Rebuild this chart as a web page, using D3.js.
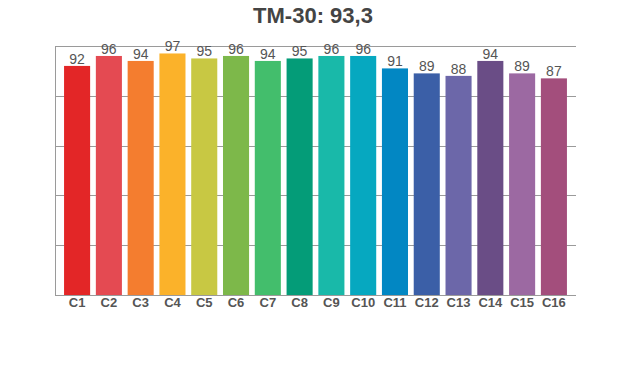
<!DOCTYPE html>
<html><head><meta charset="utf-8">
<script src="https://cdn.jsdelivr.net/npm/d3@7/dist/d3.min.js"></script>
<style>body{margin:0;background:#fff;}svg{display:block;}</style>
</head><body>
<svg id="c" width="620" height="370"></svg>
<script>
const categories = ["C1","C2","C3","C4","C5","C6","C7","C8","C9","C10","C11","C12","C13","C14","C15","C16"];
const values = [92,96,94,97,95,96,94,95,96,96,91,89,88,94,89,87];
const colors = ["#e32627","#e44a52","#f47d2f","#fbb22a","#c8c843","#7db84a","#43be6c","#049c78","#19b9a9","#06a8c0","#0287c3","#3b5fa7","#6c67a9","#6a4d86","#9c69a2","#a34e7c"];
const yTicks = [0,20,40,60,80,100];
const title = "TM-30: 93,3";

const svg = d3.select("#c");
const L = 55, R = 576, T = 46, B = 295;
const x = d3.scaleBand().domain(categories).range([L, R]).paddingInner(0.18).paddingOuter(0.285);
const y = d3.scaleLinear().domain([0,100]).range([B, T]);

// grid
svg.append("g").selectAll("line").data(yTicks).join("line")
  .attr("x1", L).attr("x2", R)
  .attr("y1", d => Math.round(y(d)) + 0.5).attr("y2", d => Math.round(y(d)) + 0.5)
  .attr("stroke", "#9a9a9a").attr("stroke-width", 1);
svg.append("line").attr("x1", L + 0.5).attr("x2", L + 0.5).attr("y1", T).attr("y2", B + 1)
  .attr("stroke", "#9a9a9a");

// bars
svg.append("g").selectAll("rect").data(values).join("rect")
  .attr("x", (d,i) => x(categories[i]))
  .attr("width", x.bandwidth())
  .attr("y", d => y(d))
  .attr("height", d => y(0) - y(d))
  .attr("fill", (d,i) => colors[i]);

// value labels
svg.append("g").selectAll("text").data(values).join("text")
  .attr("x", (d,i) => x(categories[i]) + x.bandwidth()/2)
  .attr("y", d => y(d) - 2)
  .attr("text-anchor", "middle")
  .attr("font-family", "Liberation Sans, Arial, sans-serif")
  .attr("font-size", 14).attr("fill", "#555")
  .text(d => d);

// x axis labels
const xAxis = d3.axisBottom(x).tickSize(0).tickPadding(0);
const gx = svg.append("g").attr("transform", `translate(0,${B})`).call(xAxis);
gx.select(".domain").remove();
gx.selectAll("text").attr("dy", null).attr("y", 12)
  .attr("font-family", "Liberation Sans, Arial, sans-serif")
  .attr("font-size", 13).attr("font-weight", "bold").attr("fill", "#555");

// title
svg.append("text").attr("x", 313).attr("y", 23).attr("text-anchor", "middle")
  .attr("font-family", "Liberation Sans, Arial, sans-serif")
  .attr("font-size", 22).attr("font-weight", "bold").attr("fill", "#444")
  .text(title);
</script>
</body></html>
